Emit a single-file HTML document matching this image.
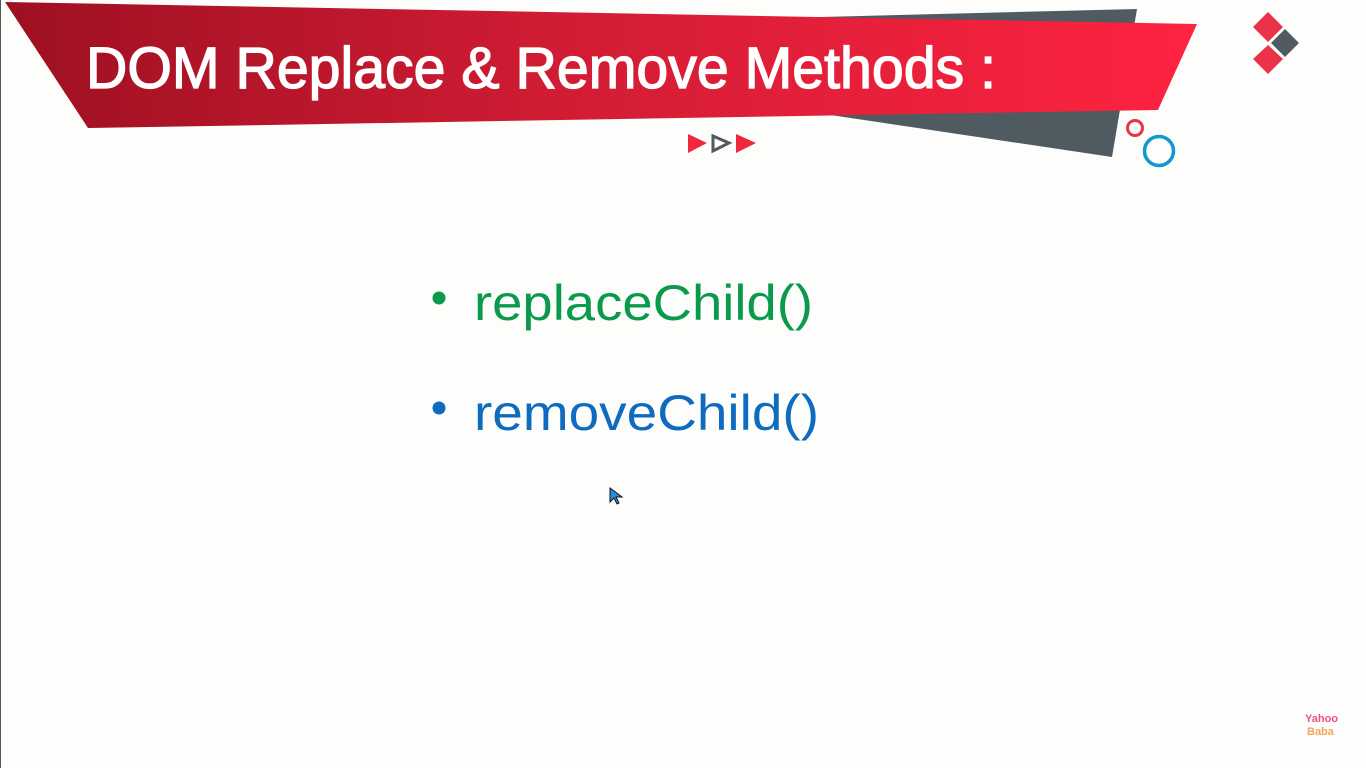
<!DOCTYPE html>
<html><head><meta charset="utf-8"><style>
html,body{margin:0;padding:0;background:#fdfdfc;}
svg{display:block}
</style></head><body>
<svg width="1366" height="768" viewBox="0 0 1366 768" xmlns="http://www.w3.org/2000/svg">
<defs>
<linearGradient id="rg" x1="0" x2="1" y1="0" y2="0">
<stop offset="0" stop-color="#9e1022"/>
<stop offset="0.5" stop-color="#d41d35"/>
<stop offset="1" stop-color="#ff2340"/>
</linearGradient>
</defs>
<rect width="1366" height="768" fill="#fdfdfc"/>
<line x1="0.5" y1="0" x2="0.5" y2="768" stroke="#555" stroke-width="1"/>
<polygon points="700,20 1137,9 1112,157 730,100" fill="#4f5a61"/>
<polygon points="5,2 1197,24 1158,110 88,128" fill="url(#rg)"/>
<text x="86" y="88" font-family="Liberation Sans, sans-serif" font-size="58" fill="#fff" stroke="#fff" stroke-width="1.3" textLength="910" lengthAdjust="spacingAndGlyphs">DOM Replace &amp; Remove Methods :</text>
<polygon points="688,134 707,143 688,153" fill="#f0283e"/>
<polygon points="713,136 729,143 713,151" fill="none" stroke="#4f5a61" stroke-width="3"/>
<polygon points="736,134 756,143 736,153" fill="#f0283e"/>
<polygon points="1268,12 1283,27 1268,42 1253,27" fill="#ea3349"/>
<polygon points="1285,29 1299,43 1285,57 1271,43" fill="#4f5a61"/>
<polygon points="1268,45 1283,59 1268,74 1253,59" fill="#ea3349"/>
<circle cx="1135" cy="128" r="7.5" fill="none" stroke="#e8344b" stroke-width="3"/>
<circle cx="1159" cy="151" r="14.5" fill="none" stroke="#1396d1" stroke-width="3.5"/>
<circle cx="439" cy="298" r="6.5" fill="#0a9a4c"/>
<text x="474" y="320" font-family="Liberation Sans, sans-serif" font-size="50" fill="#0a9a4c" textLength="339" lengthAdjust="spacingAndGlyphs">replaceChild()</text>
<circle cx="439" cy="408" r="6.5" fill="#0e6bbf"/>
<text x="474" y="430" font-family="Liberation Sans, sans-serif" font-size="50" fill="#0e6bbf" textLength="345" lengthAdjust="spacingAndGlyphs">removeChild()</text>
<polygon points="610,488 610,502 614,498 617,504 619,503 616,497 622,497" fill="#2a8fd6" stroke="#111" stroke-width="1"/>
<text x="1305" y="722" font-family="Liberation Sans, sans-serif" font-size="11" font-weight="bold" fill="#f0508a">Yahoo</text>
<text x="1307" y="735" font-family="Liberation Sans, sans-serif" font-size="11" font-weight="bold" fill="#f2a65a">Baba</text>
</svg>
</body></html>
